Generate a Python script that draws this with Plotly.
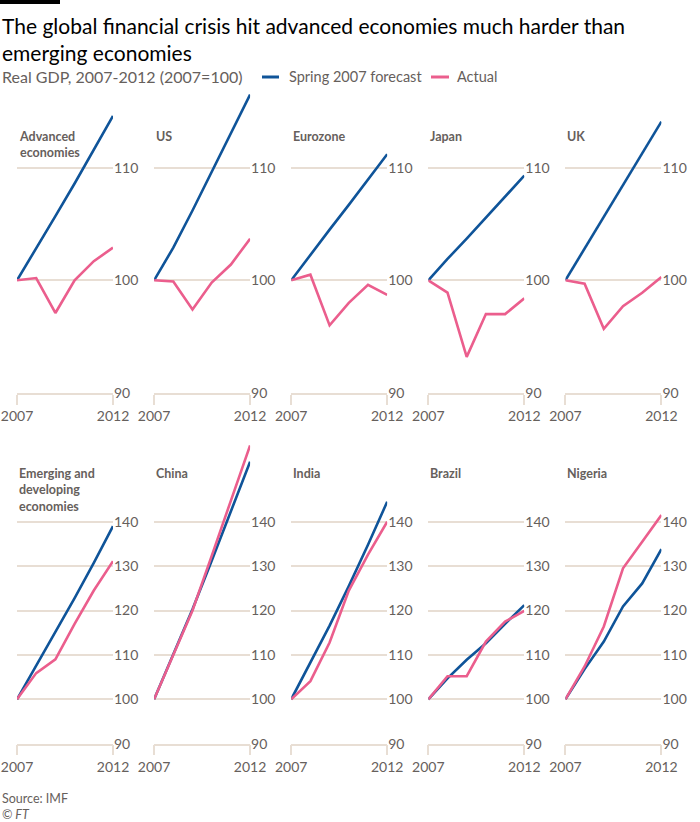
import plotly.graph_objects as go

years = [2007, 2008, 2009, 2010, 2011, 2012]

panels = ["Advanced<br>economies", "US", "Eurozone", "Japan", "UK",
          "Emerging and<br>developing<br>economies", "China", "India", "Brazil", "Nigeria"]

forecast = {
    "Advanced<br>economies": [100, 102.8, 105.7, 108.6, 111.6, 114.6],
    "US": [100, 102.9, 106.2, 109.6, 113.0, 116.5],
    "Eurozone": [100, 102.3, 104.5, 106.7, 109.0, 111.2],
    "Japan": [100, 101.9, 103.7, 105.6, 107.4, 109.3],
    "UK": [100, 102.8, 105.6, 108.5, 111.3, 114.1],
    "Emerging and<br>developing<br>economies": [100, 107.5, 115.0, 122.8, 130.7, 139.0],
    "China": [100, 110.0, 120.3, 131.2, 142.3, 153.5],
    "India": [100, 108.3, 116.6, 125.5, 134.8, 144.5],
    "Brazil": [100, 104.7, 108.9, 112.6, 117.0, 121.2],
    "Nigeria": [100, 106.8, 113.0, 120.9, 126.1, 133.8],
}

actual = {
    "Advanced<br>economies": [100, 100.2, 97.1, 100.0, 101.7, 102.9],
    "US": [100, 99.9, 97.4, 99.8, 101.4, 103.7],
    "Eurozone": [100, 100.5, 96.0, 98.0, 99.6, 98.7],
    "Japan": [100, 98.9, 93.2, 97.0, 97.0, 98.4],
    "UK": [100, 99.7, 95.7, 97.7, 98.9, 100.3],
    "Emerging and<br>developing<br>economies": [100, 105.9, 109.0, 117.0, 124.5, 131.1],
    "China": [100, 110.0, 120.0, 132.3, 144.8, 157.2],
    "India": [100, 104.1, 112.8, 124.5, 132.6, 140.0],
    "Brazil": [100, 105.2, 105.2, 113.0, 117.5, 119.9],
    "Nigeria": [100, 107.4, 116.4, 129.5, 135.5, 141.5],
}

top_ticks = [90, 100, 110]
bottom_ticks = [90, 100, 110, 120, 130, 140]
x_ticks = [2007, 2012]

BLUE = "#0f5499"
PINK = "#eb5e8d"
GREY = "#66605c"
GRID = "#e8ded4"
FONT = "Lato"

W, H = 700, 822

def px_x(p):
    return p / W

def px_y(p):
    return 1 - p / H

fig = go.Figure()

left0 = 17
step = 137.1
pw = 96
rows = [
    dict(top=92.3, bottom=392.9, rng=[90, 116.7], ticks=top_ticks, title_y=135),
    dict(top=444.0, bottom=743.7, rng=[90, 157.5], ticks=bottom_ticks, title_y=472),
]

layout = {}
annotations = []
for i, name in enumerate(panels):
    r = rows[i // 5]
    c = i % 5
    n = i + 1
    xa = "x" if n == 1 else f"x{n}"
    ya = "y" if n == 1 else f"y{n}"
    xl = left0 + c * step
    fig.add_trace(go.Scatter(x=years, y=forecast[name], mode="lines",
                             line=dict(color=BLUE, width=2.6), xaxis=xa, yaxis=ya,
                             showlegend=False, hoverinfo="skip"))
    fig.add_trace(go.Scatter(x=years, y=actual[name], mode="lines",
                             line=dict(color=PINK, width=2.6), xaxis=xa, yaxis=ya,
                             showlegend=False, hoverinfo="skip"))
    layout[f"xaxis{n}" if n > 1 else "xaxis"] = dict(
        domain=[px_x(xl), px_x(xl + pw)], range=[2007, 2012], anchor=ya,
        tickvals=x_ticks, ticktext=[str(t) for t in x_ticks], automargin=False,
        showgrid=False, zeroline=False, showline=True, linecolor=GRID, linewidth=1.5,
        ticks="outside", ticklen=10, tickcolor=GRID, tickwidth=1.5,
        tickfont=dict(family=FONT, size=14, color=GREY), fixedrange=True)
    layout[f"yaxis{n}" if n > 1 else "yaxis"] = dict(
        domain=[px_y(r["bottom"]), px_y(r["top"])], range=r["rng"], anchor=xa,
        side="right", tickvals=r["ticks"], showgrid=True, gridcolor=GRID, gridwidth=1.5,
        zeroline=False, showline=False, ticks="", automargin=False,
        tickfont=dict(family=FONT, size=14, color=GREY), fixedrange=True)
    annotations.append(dict(text=f"<b>{name}</b>", x=px_x(xl), y=px_y(r["title_y"] - 8),
                            xref="paper", yref="paper", xanchor="left", yanchor="top",
                            showarrow=False, align="left",
                            font=dict(family=FONT, size=12.5, color=GREY)))

# Title, subtitle, legend, footer
annotations += [
    dict(text="The global financial crisis hit advanced economies much harder than<br>emerging economies",
         x=0, y=px_y(11), xref="paper", yref="paper", xanchor="left", yanchor="top",
         showarrow=False, align="left", font=dict(family=FONT, size=21, color="#000000")),
    dict(text="Real GDP, 2007-2012 (2007=100)", x=0, y=px_y(77), xref="paper", yref="paper",
         xanchor="left", yanchor="middle", showarrow=False,
         font=dict(family=FONT, size=16, color=GREY)),
    dict(text="Spring 2007 forecast", x=px_x(287), y=px_y(77), xref="paper", yref="paper",
         xanchor="left", yanchor="middle", showarrow=False,
         font=dict(family=FONT, size=14.5, color=GREY)),
    dict(text="Actual", x=px_x(455), y=px_y(77), xref="paper", yref="paper",
         xanchor="left", yanchor="middle", showarrow=False,
         font=dict(family=FONT, size=14.5, color=GREY)),
    dict(text="Source: IMF", x=0, y=px_y(798), xref="paper", yref="paper",
         xanchor="left", yanchor="middle", showarrow=False,
         font=dict(family=FONT, size=12.5, color=GREY)),
    dict(text="<i>© FT</i>", x=0, y=px_y(814), xref="paper", yref="paper",
         xanchor="left", yanchor="middle", showarrow=False,
         font=dict(family=FONT, size=12.5, color=GREY)),
]

shapes = [
    dict(type="rect", xref="paper", yref="paper", x0=0, x1=px_x(60), y0=px_y(4), y1=1,
         fillcolor="#000000", line=dict(width=0)),
    dict(type="line", xref="paper", yref="paper", x0=px_x(262), x1=px_x(279), y0=px_y(77), y1=px_y(77),
         line=dict(color=BLUE, width=3)),
    dict(type="line", xref="paper", yref="paper", x0=px_x(431), x1=px_x(449), y0=px_y(77), y1=px_y(77),
         line=dict(color=PINK, width=3)),
]

fig.update_layout(width=W, height=H, margin=dict(l=0, r=0, t=0, b=0, autoexpand=False),
                  paper_bgcolor="white", plot_bgcolor="white",
                  annotations=annotations, shapes=shapes, showlegend=False, **layout)

fig.write_html("out.html")
